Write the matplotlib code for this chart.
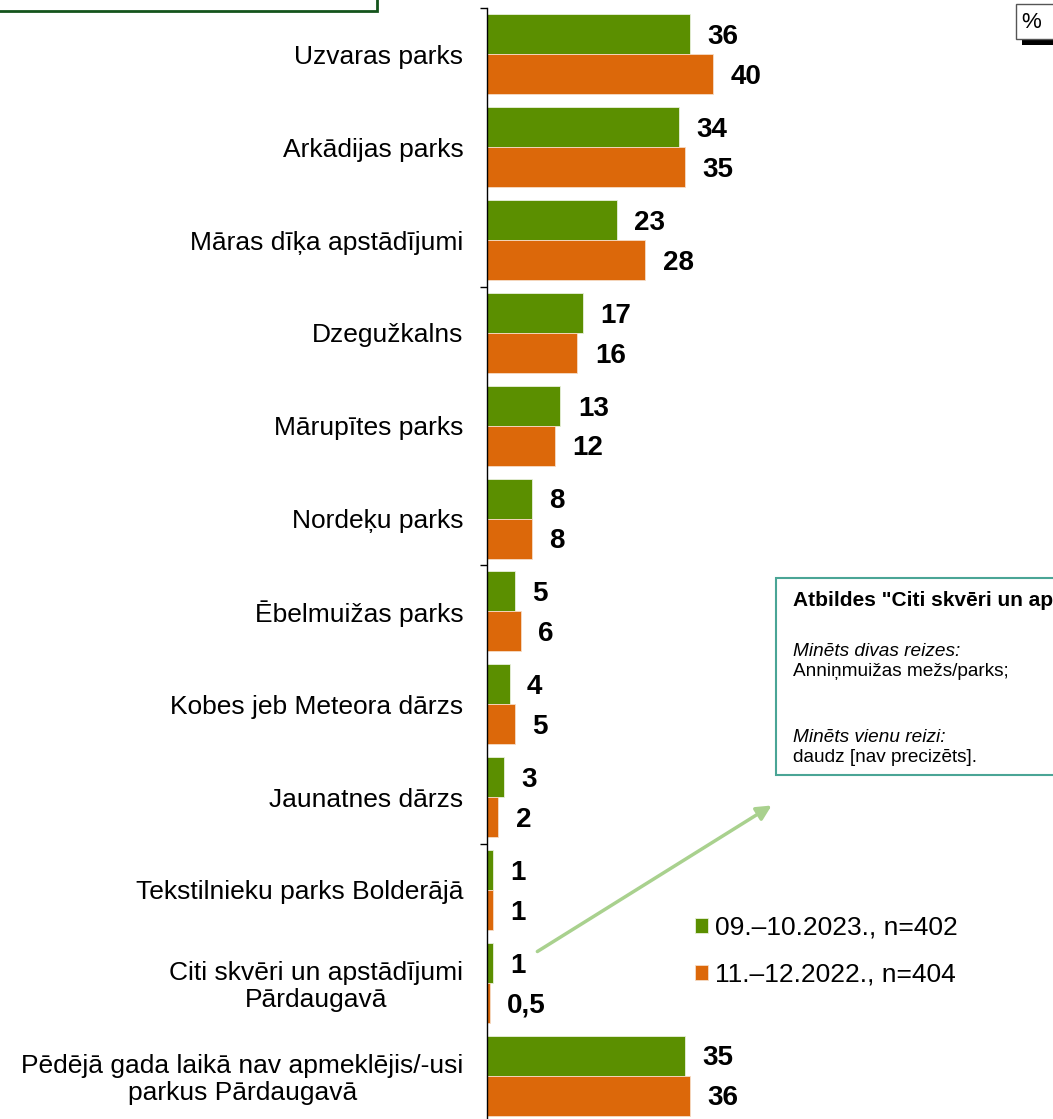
import matplotlib.pyplot as plt
from matplotlib.patches import Rectangle, FancyArrowPatch

plt.rcParams['font.family'] = ['Liberation Sans', 'DejaVu Sans']

############## Daten ##############
parks = [
    "Uzvaras parks",
    "Arkādijas parks",
    "Māras dīķa apstādījumi",
    "Dzegužkalns",
    "Mārupītes parks",
    "Nordeķu parks",
    "Ēbelmuižas parks",
    "Kobes jeb Meteora dārzs",
    "Jaunatnes dārzs",
    "Tekstilnieku parks Bolderājā",
    "Citi skvēri un apstādījumi\nPārdaugavā",
    "Pēdējā gada laikā nav apmeklējis/-usi\nparkus Pārdaugavā",
]
v2023 = [36, 34, 23, 17, 13, 8, 5, 4, 3, 1, 1, 35]
v2022 = [40, 35, 28, 16, 12, 8, 6, 5, 2, 1, 0.5, 36]
series_names = ["09.–10.2023., n=402", "11.–12.2022., n=404"]

GREEN = "#5b8f00"
ORANGE = "#dc680a"

W, H = 1053, 1119


def fx(x):
    return x / W


def fy(y):
    return 1 - y / H


############## Zeichnen ##############
fig = plt.figure(figsize=(W / 100, H / 100), dpi=100)
ax = fig.add_axes([fx(487), fy(1122), 565 / W, 1114 / H])

y = list(range(len(parks)))
bh = 0.43
b1 = ax.barh([i - bh / 2 for i in y], v2023, height=bh, color=GREEN,
             edgecolor="#e8f0dc", linewidth=0.6, label=series_names[0])
b2 = ax.barh([i + bh / 2 for i in y], v2022, height=bh, color=ORANGE,
             edgecolor="#f6dcc6", linewidth=0.6, label=series_names[1])


def fmt(v):
    return str(v).replace(".", ",") if v % 1 else str(int(v))


for bars, vals in ((b1, v2023), (b2, v2022)):
    for rect, v in zip(bars, vals):
        ax.annotate(fmt(v), (rect.get_width(), rect.get_y() + rect.get_height() / 2),
                    xytext=(12.5, -2), textcoords="offset points",
                    ha="left", va="center", fontsize=20, fontweight="bold")

ax.set_xlim(0, 100)
ax.set_ylim(len(parks) - 0.5, -0.5)

ax.set_yticks(y)
ax.set_yticklabels(parks, fontsize=19)
for lab in ax.get_yticklabels():
    lab.set_multialignment("center")
    lab.set_linespacing(1.15)
ax.tick_params(axis="y", which="major", length=0, pad=17)
ax.set_yticks([-0.5, 2.5, 5.5, 8.5, 11.5], minor=True)
ax.tick_params(axis="y", which="minor", length=5, width=1, direction="out")
ax.set_xticks([])

for s in ("top", "right", "bottom"):
    ax.spines[s].set_visible(False)
ax.spines["left"].set_linewidth(1)

# Legende
leg = ax.legend(handles=[b1, b2], loc="upper left",
                bbox_to_anchor=(fx(695), fy(916)), bbox_transform=fig.transFigure,
                frameon=False, fontsize=19, handlelength=0.5, handleheight=0.5,
                handletextpad=0.25, labelspacing=0.85, borderpad=0, borderaxespad=0)

# Kasten oben links (abgeschnitten)
fig.patches.append(Rectangle((fx(-5), fy(11)), 382 / W, 20 / H, transform=fig.transFigure,
                             facecolor="white", edgecolor="#14541c", linewidth=2))

# Prozent-Kasten
fig.patches.append(Rectangle((fx(1022), fy(45)), 40 / W, 8 / H, transform=fig.transFigure,
                             facecolor="black", edgecolor="none"))
fig.patches.append(Rectangle((fx(1016), fy(39)), 50 / W, 35 / H, transform=fig.transFigure,
                             facecolor="white", edgecolor="#555555", linewidth=1))
fig.text(fx(1031), fy(22), "%", ha="center", va="center", fontsize=16)

# Anmerkungskasten
fig.patches.append(Rectangle((fx(776), fy(775)), 300 / W, 197 / H, transform=fig.transFigure,
                             facecolor="white", edgecolor="#4aa596", linewidth=1.5))
fig.text(fx(793), fy(600), 'Atbildes "Citi skvēri un apstādījumi Pārdaugavā"',
         ha="left", va="center", fontsize=15, fontweight="bold")
fig.text(fx(793), fy(652), "Minēts divas reizes:", ha="left", va="center",
         fontsize=13.7, style="italic")
fig.text(fx(793), fy(672), "Anniņmuižas mežs/parks;", ha="left", va="center", fontsize=13.7)
fig.text(fx(793), fy(737), "Minēts vienu reizi:", ha="left", va="center",
         fontsize=13.7, style="italic")
fig.text(fx(793), fy(757), "daudz [nav precizēts].", ha="left", va="center", fontsize=13.7)

# Pfeil
fig.patches.append(FancyArrowPatch((fx(535), fy(953)), (fx(774), fy(804)),
                                   transform=fig.transFigure, arrowstyle="-|>",
                                   mutation_scale=22, color="#a9d18e", linewidth=2.5))

fig.savefig("out.png", dpi=100)
